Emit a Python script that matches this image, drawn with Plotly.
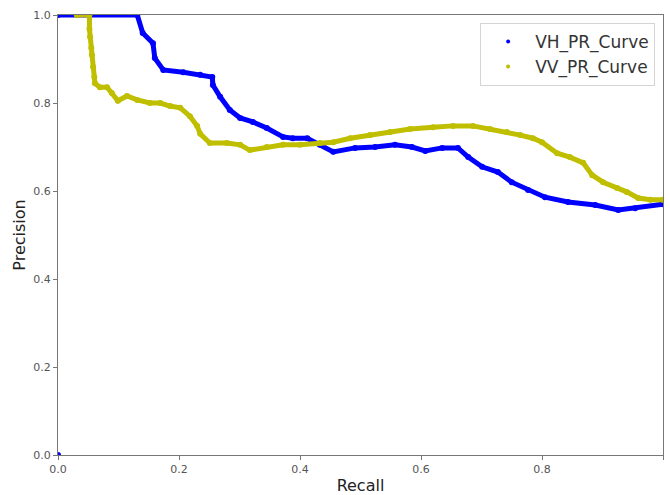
import plotly.graph_objects as go

# VH curve (blue)
VH_recall = [0.0, 0.0, 0.131, 0.140, 0.157, 0.160, 0.174, 0.207, 0.235, 0.255,
             0.256, 0.268, 0.284, 0.301, 0.322, 0.345, 0.372, 0.388, 0.412, 0.433,
             0.455, 0.491, 0.524, 0.557, 0.585, 0.607, 0.635, 0.661, 0.678, 0.701,
             0.727, 0.750, 0.777, 0.805, 0.843, 0.888, 0.926, 0.954, 1.0]
VH_precision = [0.0, 1.0, 1.0, 0.959, 0.936, 0.902, 0.875, 0.870, 0.864, 0.859,
                0.841, 0.814, 0.784, 0.766, 0.757, 0.743, 0.723, 0.720, 0.720, 0.705,
                0.689, 0.698, 0.700, 0.705, 0.700, 0.691, 0.698, 0.698, 0.677, 0.655,
                0.643, 0.620, 0.602, 0.586, 0.575, 0.568, 0.557, 0.561, 0.570]

# VV curve (yellow)
VV_recall = [0.031, 0.052, 0.052, 0.053, 0.055, 0.056, 0.058, 0.060, 0.061, 0.069,
             0.081, 0.089, 0.099, 0.114, 0.131, 0.152, 0.169, 0.185, 0.202, 0.218,
             0.230, 0.235, 0.251, 0.279, 0.301, 0.317, 0.345, 0.372, 0.400, 0.433,
             0.455, 0.483, 0.516, 0.549, 0.582, 0.620, 0.653, 0.686, 0.714, 0.742,
             0.764, 0.785, 0.800, 0.825, 0.846, 0.868, 0.883, 0.901, 0.924, 0.940,
             0.959, 0.979, 1.0]
VV_precision = [1.0, 1.0, 0.968, 0.950, 0.925, 0.909, 0.882, 0.859, 0.845, 0.836,
                0.836, 0.823, 0.805, 0.816, 0.807, 0.800, 0.800, 0.793, 0.789, 0.770,
                0.748, 0.730, 0.709, 0.709, 0.705, 0.693, 0.700, 0.705, 0.705, 0.709,
                0.711, 0.720, 0.727, 0.734, 0.741, 0.745, 0.748, 0.748, 0.741, 0.734,
                0.727, 0.720, 0.711, 0.686, 0.677, 0.664, 0.636, 0.620, 0.607, 0.598,
                0.584, 0.580, 0.580]

tick_vals = [0.0, 0.2, 0.4, 0.6, 0.8, 1.0]

BLUE = "#0000ff"
YELLOW = "#bfbf00"

fig = go.Figure()
# dense dot strings rendered as thick line + dots
fig.add_trace(go.Scatter(x=VH_recall[1:], y=VH_precision[1:], mode="lines",
                         line=dict(color=BLUE, width=5), showlegend=False, hoverinfo="skip"))
fig.add_trace(go.Scatter(x=VH_recall, y=VH_precision, mode="markers", name="VH_PR_Curve",
                         marker=dict(color=BLUE, size=6), showlegend=False))
fig.add_trace(go.Scatter(x=VV_recall, y=VV_precision, mode="lines",
                         line=dict(color=YELLOW, width=5), showlegend=False, hoverinfo="skip"))
fig.add_trace(go.Scatter(x=VV_recall, y=VV_precision, mode="markers", name="VV_PR_Curve",
                         marker=dict(color=YELLOW, size=6), showlegend=False))
# legend entries with small dots, as in the reference
fig.add_trace(go.Scatter(x=[None], y=[None], mode="markers", name="VH_PR_Curve",
                         marker=dict(color=BLUE, size=4)))
fig.add_trace(go.Scatter(x=[None], y=[None], mode="markers", name="VV_PR_Curve",
                         marker=dict(color=YELLOW, size=4)))

axis_common = dict(
    range=[0, 1], tickvals=tick_vals, tickformat=".1f",
    showgrid=False, zeroline=False, showline=True, mirror=True,
    linecolor="#777777", linewidth=1.2, ticks="outside", ticklen=4,
    tickcolor="#777777", tickfont=dict(family="DejaVu Sans", size=11, color="#555555"),
    automargin=False,
)

fig.update_layout(
    width=670, height=495,
    margin=dict(l=58, r=7, t=15, b=40),
    paper_bgcolor="white", plot_bgcolor="white",
    font=dict(family="DejaVu Sans"),
    xaxis=dict(axis_common, title=dict(text="Recall", font=dict(size=16, color="#222222"), standoff=5)),
    yaxis=dict(axis_common, title=dict(text="Precision", font=dict(size=16, color="#222222"), standoff=3)),
    legend=dict(x=0.987, y=0.982, xanchor="right", yanchor="top",
                bgcolor="rgba(255,255,255,0.8)", bordercolor="#d5d5d5", borderwidth=1,
                font=dict(size=17, color="#333333"), itemwidth=44, tracegroupgap=0),
    showlegend=True,
)

fig.write_html("out.html")
